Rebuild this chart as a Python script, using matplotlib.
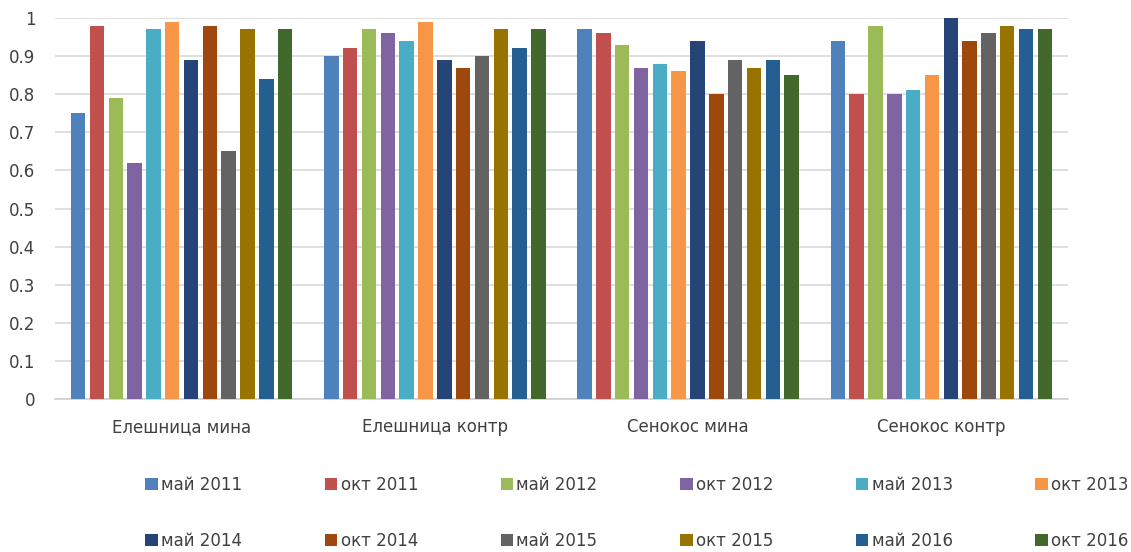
import numpy as np
import matplotlib
matplotlib.use("Agg")
import matplotlib.pyplot as plt
from matplotlib.ticker import FuncFormatter

plt.rcParams['font.family'] = ['DejaVu Sans']

# sites and sampling dates
sites = ['Елешница мина', 'Елешница контр', 'Сенокос мина', 'Сенокос контр']
dates = ['май 2011', 'окт 2011', 'май 2012', 'окт 2012', 'май 2013', 'окт 2013',
         'май 2014', 'окт 2014', 'май 2015', 'окт 2015', 'май 2016', 'окт 2016']

# one row per date, one value per site
may_2011 = [0.75, 0.90, 0.97, 0.94]
oct_2011 = [0.98, 0.92, 0.96, 0.80]
may_2012 = [0.79, 0.97, 0.93, 0.98]
oct_2012 = [0.62, 0.96, 0.87, 0.80]
may_2013 = [0.97, 0.94, 0.88, 0.81]
oct_2013 = [0.99, 0.99, 0.86, 0.85]
may_2014 = [0.89, 0.89, 0.94, 1.00]
oct_2014 = [0.98, 0.87, 0.80, 0.94]
may_2015 = [0.65, 0.90, 0.89, 0.96]
oct_2015 = [0.97, 0.97, 0.87, 0.98]
may_2016 = [0.84, 0.92, 0.89, 0.97]
oct_2016 = [0.97, 0.97, 0.85, 0.97]

series = [may_2011, oct_2011, may_2012, oct_2012, may_2013, oct_2013,
          may_2014, oct_2014, may_2015, oct_2015, may_2016, oct_2016]

colors = ['#4F81BD', '#C0504D', '#9BBB59', '#8064A2', '#4BACC6', '#F79646',
          '#264478', '#9E480E', '#636363', '#997300', '#255E91', '#43682B']

fig = plt.figure(figsize=(11.31, 5.52), dpi=100)
ax = fig.add_axes([55/1131, 1-399/552, 1013/1131, 381/552])

x = np.arange(len(sites))
step = 0.0743
width = 0.057
for i, (vals, c, lab) in enumerate(zip(series, colors, dates)):
    offs = (i - (len(series) - 1) / 2) * step
    ax.bar(x + offs, vals, width, color=c, label=lab, zorder=3)

ax.set_xlim(-0.5, len(sites) - 0.5)
ax.set_ylim(0, 1)
ax.set_yticks(np.arange(0, 1.01, 0.1))
ax.yaxis.set_major_formatter(FuncFormatter(lambda v, p: ('%.1f' % v).rstrip('0').rstrip('.')))
ax.set_xticks(x)
ax.set_xticklabels(sites, fontsize=12, color='#404040')
ax.tick_params(axis='y', labelsize=12, colors='#404040', length=0, pad=14)
ax.tick_params(axis='x', length=0, pad=14)

ax.grid(axis='y', color='#D9D9D9', linewidth=1.2, zorder=0)
for s in ['top', 'right', 'left']:
    ax.spines[s].set_visible(False)
ax.spines['bottom'].set_color('#D0D0D0')
ax.spines['bottom'].set_linewidth(1.2)

# legend filled row by row: 6 per row
handles, labels = ax.get_legend_handles_labels()
ncol = 6
order = [r * ncol + c for c in range(ncol) for r in range(2)]
leg = fig.legend([handles[k] for k in order], [labels[k] for k in order],
                 loc='center', bbox_to_anchor=(637/1131, 1-513/552), ncol=ncol,
                 frameon=False, fontsize=12, handlelength=0.75, handleheight=0.75,
                 handletextpad=0.2, columnspacing=4.95, labelspacing=2.3)
for t in leg.get_texts():
    t.set_color('#404040')

fig.savefig('out.png', dpi=100)
